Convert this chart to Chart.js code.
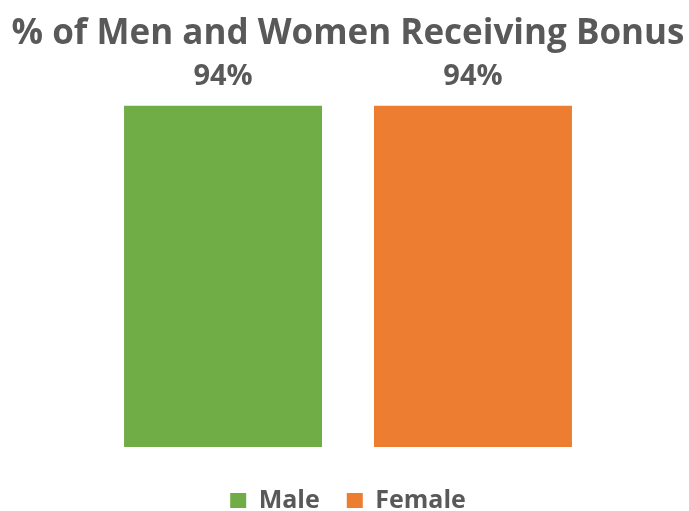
<!DOCTYPE html>
<html>
<head>
<meta charset="utf-8">
<script src="https://cdn.jsdelivr.net/npm/chart.js@4"></script>
<style>
  html, body { margin: 0; padding: 0; background: #ffffff; overflow: hidden; }
  #wrap { position: relative; width: 689px; height: 523px; }
</style>
</head>
<body>
<div id="wrap"><canvas id="c"></canvas></div>
<script>
const categories = [''];
const seriesNames = ['Male', 'Female'];
const maleValues = [94];
const femaleValues = [94];
const titleText = '% of Men and Women Receiving Bonus';

const FONT = "'Open Sans', 'Noto Sans', sans-serif";

const valueLabels = {
  id: 'valueLabels',
  afterDatasetsDraw(chart) {
    const ctx = chart.ctx;
    ctx.save();
    ctx.font = 'bold 29px ' + FONT;
    ctx.fillStyle = '#595959';
    ctx.textAlign = 'center';
    ctx.textBaseline = 'alphabetic';
    chart.data.datasets.forEach((ds, i) => {
      chart.getDatasetMeta(i).data.forEach((bar, j) => {
        ctx.fillText(ds.data[j] + '%', bar.x, bar.y - 21);
      });
    });
    ctx.restore();
  }
};

new Chart(document.getElementById('c'), {
  type: 'bar',
  data: {
    labels: categories,
    datasets: [
      { label: seriesNames[0], data: maleValues, backgroundColor: '#70AD47' },
      { label: seriesNames[1], data: femaleValues, backgroundColor: '#ED7D31' }
    ]
  },
  options: {
    responsive: true,
    maintainAspectRatio: false,
    animation: false,
    layout: { padding: { left: 7, right: 0, top: 0, bottom: 0 } },
    datasets: { bar: { categoryPercentage: 0.733, barPercentage: 0.792 } },
    scales: {
      x: {
        display: true,
        grid: { display: false },
        border: { display: false },
        ticks: { display: false },
        afterFit(scale) { scale.height = 14; }
      },
      y: { display: false, min: 0, max: 100 }
    },
    plugins: {
      tooltip: { enabled: false },
      title: {
        display: true,
        text: titleText,
        color: '#595959',
        font: { family: FONT, size: 35, weight: 'bold' },
        padding: { top: 13, bottom: 29 }
      },
      legend: {
        position: 'bottom',
        labels: {
          color: '#595959',
          font: { family: FONT, size: 25, weight: 'bold' },
          boxWidth: 16,
          boxHeight: 15,
          padding: 27
        }
      }
    }
  },
  plugins: [valueLabels]
});
</script>
</body>
</html>
